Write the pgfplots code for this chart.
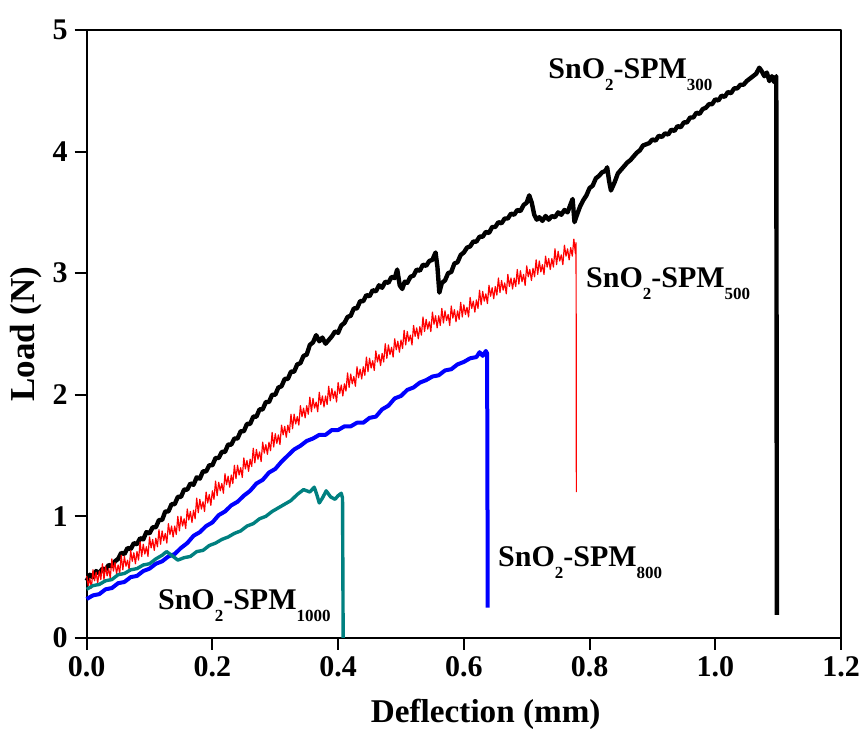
\documentclass[border=0pt]{standalone}
\usepackage{pgfplots}
\pgfplotsset{compat=1.18}
\usepackage{fontspec}
\setmainfont{Liberation Serif}
\definecolor{tealc}{RGB}{0,128,128}
\newcommand\sub[1]{\raisebox{-6pt}{\fontsize{8.5}{9}\selectfont\bfseries #1}}
\newcommand\lab[1]{\bfseries\fontsize{15}{18}\selectfont SnO\sub{2}-SPM\sub{#1}}
\pgfplotstableread{
x y
0.0000 0.51
0.0025 0.43
0.0050 0.49
0.0075 0.41
0.0100 0.56
0.0125 0.47
0.0150 0.54
0.0175 0.45
0.0200 0.55
0.0225 0.48
0.0250 0.61
0.0275 0.48
0.0300 0.59
0.0325 0.51
0.0350 0.57
0.0375 0.49
0.0400 0.65
0.0425 0.55
0.0450 0.62
0.0475 0.53
0.0500 0.60
0.0525 0.53
0.0550 0.68
0.0575 0.56
0.0600 0.67
0.0625 0.59
0.0650 0.64
0.0675 0.56
0.0700 0.72
0.0725 0.63
0.0750 0.70
0.0775 0.61
0.0800 0.71
0.0825 0.64
0.0850 0.79
0.0875 0.67
0.0900 0.77
0.0925 0.69
0.0950 0.75
0.0975 0.67
0.1000 0.83
0.1025 0.74
0.1050 0.81
0.1075 0.72
0.1100 0.82
0.1125 0.75
0.1150 0.89
0.1175 0.77
0.1200 0.88
0.1225 0.80
0.1250 0.86
0.1275 0.78
0.1300 0.94
0.1325 0.85
0.1350 0.92
0.1375 0.83
0.1400 0.92
0.1425 0.85
0.1450 1.00
0.1475 0.88
0.1500 1.00
0.1525 0.92
0.1550 0.98
0.1575 0.90
0.1600 1.06
0.1625 0.97
0.1650 1.04
0.1675 0.95
0.1700 1.05
0.1725 0.98
0.1750 1.15
0.1775 1.03
0.1800 1.14
0.1825 1.06
0.1850 1.12
0.1875 1.04
0.1900 1.20
0.1925 1.11
0.1950 1.18
0.1975 1.09
0.2000 1.21
0.2025 1.14
0.2050 1.29
0.2075 1.17
0.2100 1.28
0.2125 1.21
0.2150 1.27
0.2175 1.19
0.2200 1.35
0.2225 1.26
0.2250 1.33
0.2275 1.24
0.2300 1.34
0.2325 1.27
0.2350 1.42
0.2375 1.31
0.2400 1.42
0.2425 1.34
0.2450 1.40
0.2475 1.32
0.2500 1.48
0.2525 1.39
0.2550 1.46
0.2575 1.37
0.2600 1.47
0.2625 1.41
0.2650 1.56
0.2675 1.44
0.2700 1.55
0.2725 1.47
0.2750 1.53
0.2775 1.45
0.2800 1.61
0.2825 1.52
0.2850 1.59
0.2875 1.51
0.2900 1.61
0.2925 1.54
0.2950 1.69
0.2975 1.57
0.3000 1.68
0.3025 1.60
0.3050 1.67
0.3075 1.59
0.3100 1.75
0.3125 1.67
0.3150 1.74
0.3175 1.65
0.3200 1.75
0.3225 1.69
0.3250 1.84
0.3275 1.72
0.3300 1.84
0.3325 1.76
0.3350 1.82
0.3375 1.75
0.3400 1.91
0.3425 1.82
0.3450 1.89
0.3475 1.81
0.3500 1.91
0.3525 1.84
0.3550 1.98
0.3575 1.86
0.3600 1.97
0.3625 1.89
0.3650 1.94
0.3675 1.86
0.3700 2.02
0.3725 1.92
0.3750 1.99
0.3775 1.90
0.3800 1.99
0.3825 1.92
0.3850 2.07
0.3875 1.95
0.3900 2.05
0.3925 1.97
0.3950 2.03
0.3975 1.94
0.4000 2.10
0.4025 2.01
0.4050 2.08
0.4075 1.99
0.4100 2.09
0.4125 2.03
0.4150 2.18
0.4175 2.06
0.4200 2.17
0.4225 2.09
0.4250 2.15
0.4275 2.07
0.4300 2.23
0.4325 2.14
0.4350 2.21
0.4375 2.13
0.4400 2.23
0.4425 2.16
0.4450 2.31
0.4475 2.19
0.4500 2.30
0.4525 2.22
0.4550 2.28
0.4575 2.20
0.4600 2.36
0.4625 2.27
0.4650 2.33
0.4675 2.24
0.4700 2.34
0.4725 2.27
0.4750 2.42
0.4775 2.30
0.4800 2.41
0.4825 2.33
0.4850 2.39
0.4875 2.31
0.4900 2.46
0.4925 2.37
0.4950 2.44
0.4975 2.35
0.5000 2.45
0.5025 2.38
0.5050 2.53
0.5075 2.41
0.5100 2.52
0.5125 2.44
0.5150 2.49
0.5175 2.41
0.5200 2.57
0.5225 2.48
0.5250 2.55
0.5275 2.46
0.5300 2.56
0.5325 2.49
0.5350 2.64
0.5375 2.52
0.5400 2.62
0.5425 2.54
0.5450 2.60
0.5475 2.52
0.5500 2.68
0.5525 2.58
0.5550 2.65
0.5575 2.55
0.5600 2.65
0.5625 2.57
0.5650 2.71
0.5675 2.59
0.5700 2.69
0.5725 2.61
0.5750 2.66
0.5775 2.57
0.5800 2.73
0.5825 2.63
0.5850 2.70
0.5875 2.60
0.5900 2.69
0.5925 2.62
0.5950 2.76
0.5975 2.64
0.6000 2.74
0.6025 2.66
0.6050 2.72
0.6075 2.64
0.6100 2.80
0.6125 2.71
0.6150 2.77
0.6175 2.68
0.6200 2.78
0.6225 2.71
0.6250 2.86
0.6275 2.74
0.6300 2.85
0.6325 2.77
0.6350 2.83
0.6375 2.75
0.6400 2.90
0.6425 2.81
0.6450 2.88
0.6475 2.79
0.6500 2.89
0.6525 2.82
0.6550 2.96
0.6575 2.84
0.6600 2.94
0.6625 2.86
0.6650 2.92
0.6675 2.83
0.6700 2.99
0.6725 2.89
0.6750 2.96
0.6775 2.87
0.6800 2.96
0.6825 2.89
0.6850 3.03
0.6875 2.91
0.6900 3.02
0.6925 2.93
0.6950 2.99
0.6975 2.90
0.7000 3.06
0.7025 2.97
0.7050 3.03
0.7075 2.94
0.7100 3.04
0.7125 2.97
0.7150 3.11
0.7175 2.99
0.7200 3.10
0.7225 3.01
0.7250 3.07
0.7275 2.99
0.7300 3.14
0.7325 3.05
0.7350 3.12
0.7375 3.03
0.7400 3.12
0.7425 3.05
0.7450 3.20
0.7475 3.07
0.7500 3.18
0.7525 3.10
0.7550 3.15
0.7575 3.07
0.7600 3.23
0.7625 3.14
0.7650 3.20
0.7675 3.11
0.7700 3.21
0.7725 3.14
0.7750 3.28
0.7775 3.16
0.7785 3.25
0.7790 1.20
}\redtab
\begin{document}
\begin{tikzpicture}
\begin{axis}[name=ax, scale only axis, width=377.2pt, height=304pt,
  xmin=0, xmax=1.2, ymin=0, ymax=5,
  xtick={0,0.2,0.4,0.6,0.8,1.0,1.2}, ytick={0,1,2,3,4,5},
  tick align=outside, xtick pos=bottom, ytick pos=left,
  major tick length=6pt,
  axis line style={line width=1pt}, tick style={line width=1pt, black},
  /pgf/number format/assume math mode=true,
  ticklabel style={font=\bfseries\fontsize{15}{18}\selectfont},
  x tick label style={/pgf/number format/.cd, fixed, fixed zerofill, precision=1},
  xlabel={Deflection (mm)}, ylabel={Load (N)},
  xlabel style={font=\bfseries\fontsize{16.6}{20}\selectfont, at={(axis description cs:0.529,-0.1398)}, anchor=base},
  ylabel style={font=\bfseries\fontsize{17.5}{20}\selectfont, at={(axis description cs:-0.08,0.5)}, anchor=center},
  clip=false, line join=round]
\addplot[black, line width=2.2pt] coordinates {
(0.000,0.47)(0.005,0.52)(0.010,0.50)(0.015,0.55)(0.020,0.53)(0.025,0.57)(0.030,0.56)(0.035,0.60)(0.040,0.59)(0.045,0.63)
(0.050,0.65)(0.055,0.70)(0.060,0.69)(0.065,0.74)(0.070,0.73)(0.075,0.78)(0.080,0.77)(0.085,0.82)(0.090,0.81)(0.095,0.87)
(0.100,0.86)(0.105,0.91)(0.110,0.91)(0.115,0.97)(0.120,0.97)(0.125,1.04)(0.130,1.04)(0.135,1.10)(0.140,1.10)(0.145,1.16)
(0.150,1.16)(0.155,1.22)(0.160,1.22)(0.165,1.27)(0.170,1.26)(0.175,1.32)(0.180,1.31)(0.185,1.37)(0.190,1.37)(0.195,1.42)
(0.200,1.42)(0.205,1.48)(0.210,1.48)(0.215,1.53)(0.220,1.53)(0.225,1.59)(0.230,1.59)(0.235,1.64)(0.240,1.64)(0.245,1.70)
(0.250,1.70)(0.255,1.76)(0.260,1.76)(0.265,1.82)(0.270,1.82)(0.275,1.88)(0.280,1.88)(0.285,1.94)(0.290,1.94)(0.295,2.00)
(0.300,2.00)(0.305,2.06)(0.310,2.07)(0.315,2.13)(0.320,2.13)(0.325,2.19)(0.330,2.19)(0.335,2.25)(0.340,2.26)(0.345,2.32)
(0.350,2.33)(0.355,2.41)(0.360,2.43)(0.365,2.49)(0.370,2.44)(0.375,2.47)(0.380,2.42)(0.385,2.45)(0.390,2.48)(0.395,2.52)
(0.400,2.51)(0.405,2.57)(0.410,2.59)(0.415,2.64)(0.420,2.65)(0.425,2.71)(0.430,2.71)(0.435,2.77)(0.440,2.77)(0.445,2.82)
(0.450,2.81)(0.455,2.86)(0.460,2.85)(0.465,2.90)(0.470,2.88)(0.475,2.93)(0.480,2.92)(0.485,2.97)(0.490,2.96)(0.494,3.03)
(0.498,2.90)(0.502,2.87)(0.506,2.93)(0.510,2.92)(0.515,2.97)(0.520,2.98)(0.525,3.03)(0.530,3.02)(0.535,3.07)(0.540,3.06)
(0.545,3.10)(0.550,3.11)(0.555,3.17)(0.558,3.05)(0.561,2.84)(0.565,2.92)(0.570,2.94)(0.575,3.00)(0.580,3.01)(0.585,3.08)
(0.590,3.09)(0.595,3.15)(0.600,3.17)(0.605,3.21)(0.610,3.22)(0.615,3.26)(0.620,3.26)(0.625,3.30)(0.630,3.30)(0.635,3.34)
(0.640,3.33)(0.645,3.38)(0.650,3.38)(0.655,3.42)(0.660,3.41)(0.665,3.45)(0.670,3.45)(0.675,3.49)(0.680,3.48)(0.685,3.52)
(0.690,3.51)(0.695,3.56)(0.700,3.58)(0.704,3.64)(0.708,3.58)(0.712,3.48)(0.716,3.44)(0.720,3.46)(0.725,3.43)(0.730,3.47)
(0.735,3.44)(0.740,3.47)(0.745,3.46)(0.750,3.50)(0.755,3.48)(0.760,3.52)(0.765,3.50)(0.770,3.57)(0.773,3.61)(0.776,3.42)
(0.780,3.48)(0.785,3.55)(0.790,3.60)(0.795,3.64)(0.800,3.70)(0.805,3.72)(0.810,3.78)(0.815,3.80)(0.820,3.83)(0.825,3.84)
(0.828,3.87)(0.831,3.76)(0.834,3.68)(0.840,3.75)(0.845,3.82)(0.850,3.85)(0.855,3.88)(0.860,3.91)(0.865,3.93)(0.870,3.96)
(0.875,3.99)(0.880,4.01)(0.885,4.05)(0.890,4.06)(0.895,4.07)(0.900,4.10)(0.905,4.09)(0.910,4.13)(0.915,4.12)(0.920,4.15)
(0.925,4.14)(0.930,4.18)(0.935,4.17)(0.940,4.21)(0.945,4.20)(0.950,4.24)(0.955,4.24)(0.960,4.28)(0.965,4.28)(0.970,4.32)
(0.975,4.31)(0.980,4.35)(0.985,4.36)(0.990,4.39)(0.995,4.39)(1.000,4.43)(1.005,4.42)(1.010,4.46)(1.015,4.45)(1.020,4.49)
(1.025,4.48)(1.030,4.52)(1.035,4.52)(1.040,4.55)(1.045,4.55)(1.050,4.58)(1.055,4.60)(1.060,4.62)(1.065,4.64)(1.070,4.69)
(1.074,4.66)(1.078,4.62)(1.082,4.65)(1.086,4.58)(1.090,4.62)(1.094,4.57)(1.097,4.62)(1.098,0.19)};
\addplot[red, line width=0.6pt] table[x=x, y=y] {\redtab};
\addplot[blue, line width=2pt] coordinates {
(0.000,0.32)(0.010,0.35)(0.020,0.36)(0.030,0.40)(0.040,0.41)(0.050,0.45)(0.060,0.46)(0.070,0.50)(0.080,0.51)(0.090,0.55)
(0.100,0.57)(0.110,0.61)(0.120,0.63)(0.130,0.67)(0.140,0.69)(0.150,0.74)(0.160,0.78)(0.170,0.84)(0.180,0.87)(0.190,0.92)
(0.200,0.95)(0.210,1.01)(0.220,1.04)(0.230,1.09)(0.240,1.12)(0.250,1.17)(0.260,1.21)(0.270,1.27)(0.280,1.30)(0.290,1.36)
(0.300,1.39)(0.310,1.45)(0.320,1.50)(0.330,1.55)(0.340,1.58)(0.350,1.62)(0.360,1.64)(0.370,1.67)(0.380,1.67)(0.390,1.71)
(0.400,1.71)(0.410,1.74)(0.420,1.74)(0.430,1.77)(0.440,1.77)(0.450,1.81)(0.460,1.82)(0.470,1.88)(0.480,1.91)(0.490,1.97)
(0.500,1.99)(0.510,2.04)(0.520,2.06)(0.530,2.10)(0.540,2.12)(0.550,2.15)(0.560,2.16)(0.570,2.20)(0.580,2.21)(0.590,2.25)
(0.600,2.27)(0.610,2.30)(0.620,2.31)(0.625,2.35)(0.630,2.32)(0.635,2.36)(0.637,2.34)(0.638,0.25)};
\addplot[tealc, line width=1.7pt] coordinates {
(0.000,0.40)(0.010,0.43)(0.020,0.44)(0.030,0.47)(0.040,0.48)(0.050,0.52)(0.060,0.53)(0.070,0.56)(0.080,0.57)(0.090,0.60)
(0.100,0.61)(0.110,0.65)(0.120,0.68)(0.127,0.71)(0.135,0.68)(0.145,0.64)(0.155,0.66)(0.165,0.67)(0.175,0.71)(0.185,0.72)
(0.195,0.76)(0.205,0.78)(0.215,0.81)(0.225,0.83)(0.235,0.86)(0.245,0.88)(0.255,0.92)(0.265,0.94)(0.275,0.98)(0.285,1.00)
(0.295,1.04)(0.305,1.07)(0.315,1.10)(0.325,1.13)(0.335,1.18)(0.345,1.22)(0.355,1.20)(0.362,1.24)(0.366,1.18)(0.370,1.11)
(0.375,1.15)(0.381,1.21)(0.388,1.16)(0.395,1.14)(0.400,1.17)(0.405,1.19)(0.407,1.15)(0.408,0.00)};
\node[anchor=base west, inner sep=0pt] at (axis cs:0.734,4.605) {\lab{300}};
\node[anchor=base west, inner sep=0pt] at (axis cs:0.794,2.886) {\lab{500}};
\node[anchor=base west, inner sep=0pt] at (axis cs:0.654,0.584) {\lab{800}};
\node[anchor=base west, inner sep=0pt] at (axis cs:0.113,0.230) {\lab{1000}};
\end{axis}
\pgfresetboundingbox
\path[use as bounding box] ([xshift=-43.35pt,yshift=-46.5pt]ax.south west) rectangle ([xshift=12pt,yshift=15pt]ax.north east);
\end{tikzpicture}
\end{document}
